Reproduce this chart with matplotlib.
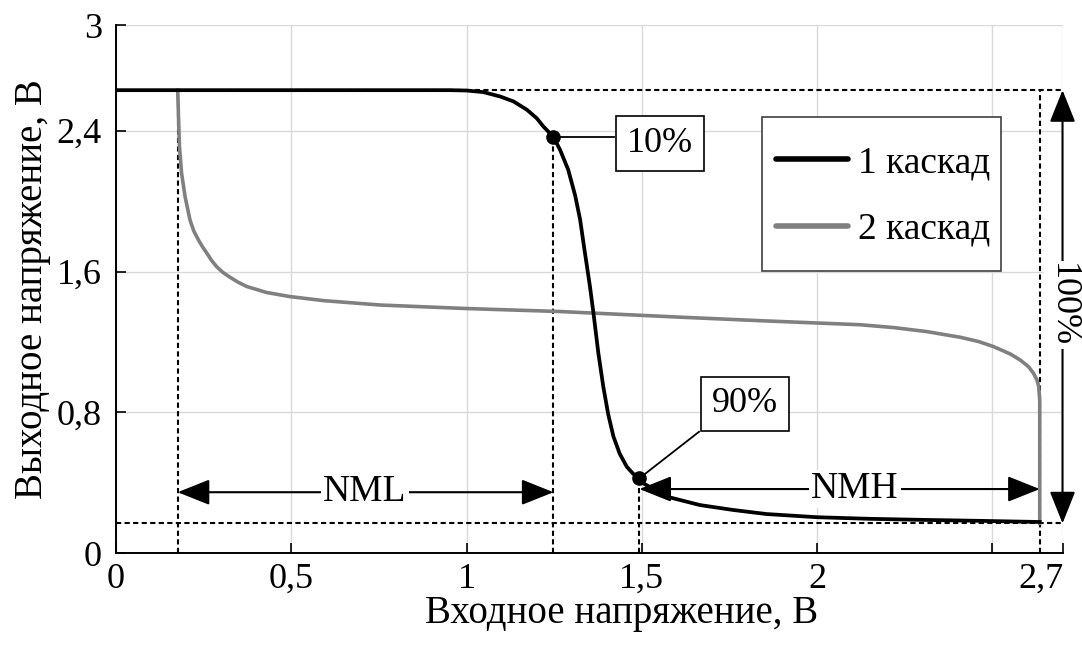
import matplotlib.pyplot as plt
import matplotlib.transforms as mtransforms
from matplotlib.patches import Rectangle

plt.rcParams['font.family'] = ['Liberation Serif', 'DejaVu Serif']

# 1 каскад
x1 = [0.0, 0.9, 0.953, 1.0, 1.048, 1.096, 1.134, 1.172, 1.2, 1.219, 1.248, 1.267,
      1.29, 1.31, 1.324, 1.335, 1.352, 1.362, 1.376, 1.39, 1.404, 1.419, 1.437,
      1.457, 1.475, 1.493, 1.504, 1.571, 1.666, 1.761, 1.856, 2.0, 2.15, 2.3, 2.45, 2.635]
y1 = [2.63, 2.63, 2.63, 2.628, 2.619, 2.594, 2.566, 2.519, 2.471, 2.424, 2.364, 2.29,
      2.178, 2.03, 1.894, 1.742, 1.515, 1.364, 1.136, 0.947, 0.79, 0.663, 0.565,
      0.492, 0.452, 0.426, 0.398, 0.322, 0.274, 0.246, 0.223, 0.205, 0.196, 0.19, 0.185, 0.178]

# 2 каскад
x2 = [0.176, 0.178, 0.181, 0.187, 0.197, 0.211, 0.222, 0.235, 0.247, 0.259, 0.272, 0.287,
      0.305, 0.325, 0.348, 0.373, 0.43, 0.496, 0.592, 0.753, 1.0, 1.267, 1.609, 1.85,
      2.123, 2.218, 2.313, 2.408, 2.46, 2.503, 2.551, 2.579, 2.603, 2.617, 2.627, 2.632,
      2.635, 2.635]
y2 = [2.63, 2.5, 2.31, 2.16, 2.026, 1.894, 1.83, 1.78, 1.74, 1.705, 1.665, 1.628,
      1.595, 1.568, 1.54, 1.515, 1.481, 1.458, 1.435, 1.41, 1.39, 1.373, 1.341, 1.32,
      1.298, 1.282, 1.259, 1.227, 1.203, 1.174, 1.132, 1.098, 1.06, 1.023, 0.985, 0.947,
      0.87, 0.17]

v_high = 2.63
v_low = 0.17
x_start2 = 0.176
x_end = 2.635
p10 = (1.248, 2.364)
p90 = (1.493, 0.426)

xticks = [0, 0.5, 1, 1.5, 2, 2.5, 2.7]
xticklabels = ['0', '0,5', '1', '1,5', '2', '', '2,7']
yticks = [0, 0.8, 1.6, 2.4, 3]
yticklabels = ['0', '0,8', '1,6', '2,4', '3']

fig = plt.figure(figsize=(10.82, 6.48), dpi=100)
ax = fig.add_axes([0.1072, 0.1461, 0.982 - 0.1072, 0.9614 - 0.1461])

ax.set_xlim(0, 2.7)
ax.set_ylim(0, 3)
ax.set_xticks(xticks)
ax.set_xticklabels(xticklabels)
ax.set_yticks(yticks)
ax.set_yticklabels(yticklabels)
ax.grid(color='#d9d9d9', linewidth=1.0)
ax.set_axisbelow(True)
for s in ['top', 'right']:
    ax.spines[s].set_visible(False)
for s in ['left', 'bottom']:
    ax.spines[s].set_linewidth(1.4)
ax.tick_params(direction='in', length=7, width=1.2, labelsize=26)
ax.tick_params(axis='x', pad=7)
ax.tick_params(axis='y', pad=10)

# last x label sits left of the axis end
lbl = ax.get_xticklabels()[-1]
lbl.set_transform(lbl.get_transform() + mtransforms.ScaledTranslation(-22 / 100, 0, fig.dpi_scale_trans))

dot = dict(color='black', linestyle=(0, (2.5, 1.6)), linewidth=1.5)
ax.plot([0, 2.7], [v_high, v_high], **dot)
ax.plot([0, 2.7], [v_low, v_low], **dot)
ax.plot([x_start2, x_start2], [0, v_high], **dot)
ax.plot([p10[0], p10[0]], [0, p10[1]], **dot)
ax.plot([p90[0], p90[0]], [0, p90[1]], **dot)
ax.plot([x_end, x_end], [0, v_high], **dot)

ax.plot(x2, y2, color='#808080', linewidth=2.6, label='2 каскад')
ax.plot(x1, y1, color='black', linewidth=2.7, label='1 каскад')
ax.plot([p10[0], p90[0]], [p10[1], p90[1]], 'o', color='black', markersize=9.5)

# 10% / 90% labels
box = dict(boxstyle='square,pad=0.3', fc='white', ec='black', lw=1.2)
ax.plot([p10[0], 1.421], [p10[1], p10[1]], color='black', linewidth=1.3)
ax.text(1.552, 2.326, '10%', fontsize=26, ha='center', va='center', bbox=box)
ax.plot([p90[0], 1.663], [p90[1], 0.69], color='black', linewidth=1.3)
ax.text(1.795, 0.848, '90%', fontsize=26, ha='center', va='center', bbox=box)

# noise margins
arw = dict(arrowstyle='<|-|>,head_length=1.0,head_width=0.4', color='black',
           lw=1.5, shrinkA=0, shrinkB=0, mutation_scale=20)
ax.annotate('', xy=(x_start2, 0.347), xytext=(p10[0], 0.347), arrowprops=arw)
ax.text(0.71, 0.347, 'NML', fontsize=27, ha='center', va='center',
        bbox=dict(boxstyle='square,pad=0.05', fc='white', ec='none'))
ax.annotate('', xy=(p90[0], 0.365), xytext=(x_end, 0.365), arrowprops=arw)
ax.text(2.108, 0.365, 'NMH', fontsize=27, ha='center', va='center',
        bbox=dict(boxstyle='square,pad=0.05', fc='white', ec='none'))
ax.annotate('', xy=(2.7, v_low), xytext=(2.7, v_high), arrowprops=arw,
            annotation_clip=False)
ax.text(2.7, 1.41, '100%', fontsize=26, ha='center', va='center', rotation=270,
        clip_on=False, bbox=dict(boxstyle='square,pad=0.05', fc='white', ec='none'))

ax.set_xlabel('Входное напряжение, В', fontsize=28)
ax.xaxis.set_label_coords(0.5345, -0.078)
ax.set_ylabel('Выходное напряжение, В', fontsize=28, labelpad=4)

# legend frame drawn separately so the inner padding can match
ax.add_patch(Rectangle((762 / 1082, 1 - 271 / 648), 239 / 1082, 154 / 648,
                       transform=fig.transFigure, fc='white', ec='#404040',
                       lw=1.2, zorder=4, clip_on=False))
handles, labels = ax.get_legend_handles_labels()
leg = ax.legend(handles[::-1], labels[::-1], fontsize=27, loc='upper left',
                bbox_to_anchor=(776 / 1082, 1 - 146 / 648), bbox_transform=fig.transFigure,
                frameon=False, handlelength=1.92, handletextpad=0.27, labelspacing=0.85,
                borderpad=0, borderaxespad=0)
leg.set_zorder(5)
for h in leg.get_lines():
    h.set_linewidth(4)
    h.set_solid_capstyle('round')

fig.savefig('out.png', dpi=100)
